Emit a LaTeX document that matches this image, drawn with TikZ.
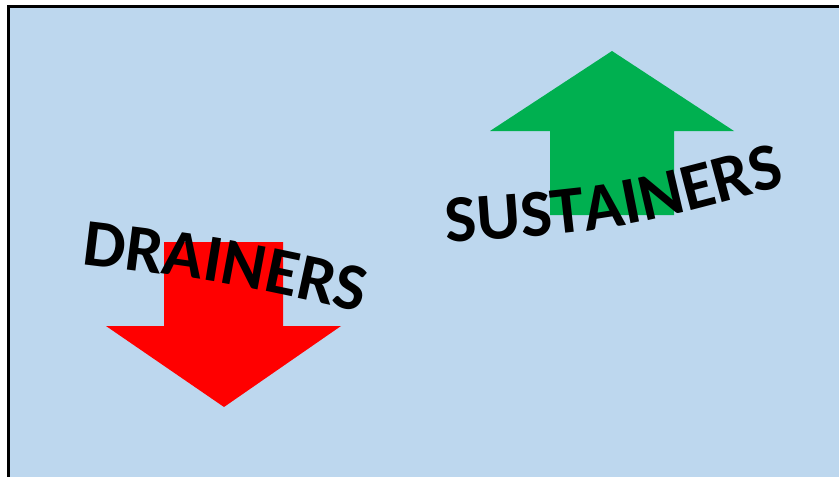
\documentclass[tikz,border=0pt]{standalone}
\usepackage{fontspec}
\setmainfont{Carlito}
\usepackage{tikz}
\usepackage{xcolor}
\usetikzlibrary{positioning,decorations.text}

\definecolor{slideblue}{HTML}{BDD7EE}
\definecolor{upgreen}{HTML}{00B050}
\definecolor{downred}{HTML}{FF0000}

\begin{document}
\begin{tikzpicture}[x=1pt, y=-1pt,
    bigarrow/.style={draw=none},
    arcword/.style={decorate, decoration={text along path, text align=center,
        text={|\bfseries\fontsize{67pt}{67pt}\selectfont|#1}}}]
            \useasboundingbox (0,0) rectangle (839,477);
            \fill[white] (0,0) rectangle (839,477);
            \clip (0,0) rectangle (839,477);
            \draw[line width=3pt, fill=slideblue] (8,6) rectangle (850,490);

            \fill[bigarrow, downred] (164,242) -- (283,242) -- (283,326) -- (341,326)
                -- (224,407) -- (106,326) -- (164,326) -- cycle;
            \fill[bigarrow, upgreen] (550,215) -- (674,215) -- (674,131) -- (734,131)
                -- (612,51) -- (490,131) -- (550,131) -- cycle;

            \path[arcword=DRAINERS] (64,262) .. controls (220.5,281) .. (379,316);
            \path[arcword=SUSTAINERS] (431,244) .. controls (616,231.5) .. (801,181);
        \end{tikzpicture}
\end{document}
